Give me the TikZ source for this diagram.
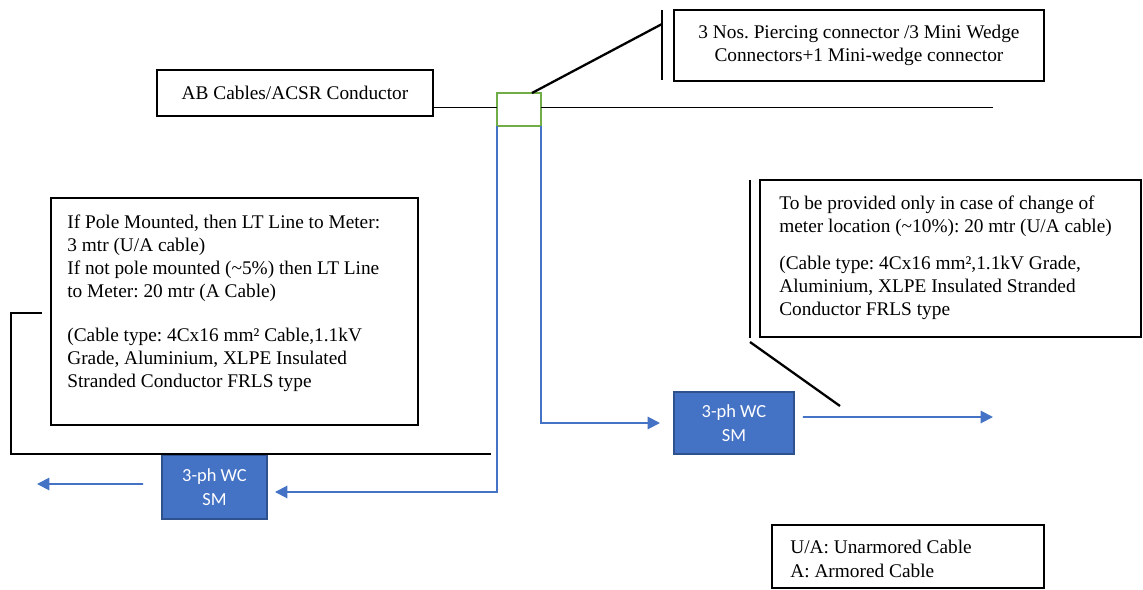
\documentclass[tikz,border=0pt]{standalone}
\usepackage{fontspec}
\setmainfont{Liberation Serif}
\newfontfamily\meterfont{Carlito}
\usetikzlibrary{arrows.meta}
\definecolor{meterblue}{HTML}{4472C4}
\definecolor{meteredge}{HTML}{2F528F}
\definecolor{tapgreen}{HTML}{70AD47}
\tikzset{
  box/.style={draw=black,line width=0.8pt,inner sep=0pt,outer sep=0pt,anchor=north west,
    font=\fontsize{11}{13}\selectfont},
  notetext/.style={inner sep=0pt,anchor=north west,align=left,font=\fontsize{11}{13}\selectfont},
  tapbox/.style={draw=tapgreen,line width=1.3pt,inner sep=0pt,outer sep=0pt,anchor=north west,
    minimum width=0.88cm,minimum height=0.66cm},
  meter/.style={draw=meteredge,line width=0.8pt,fill=meterblue,text=white,inner sep=0pt,outer sep=0pt,
    anchor=north west,align=center,font=\meterfont\fontsize{10.5}{13.6}\selectfont},
  wire/.style={black,line width=0.55pt},
  callout/.style={black,line width=1.3pt},
  feed/.style={meterblue,line width=1.1pt,-{Triangle[length=7pt,width=7pt]}}
}
\frenchspacing
\begin{document}
\begin{tikzpicture}[x=0.02cm,y=-0.02cm]
    \useasboundingbox (0,0) rectangle (1143,589);
    % overhead line and tap
    \node[box,minimum width=5.52cm,minimum height=0.92cm] at (157,70) (ab) {AB Cables/ACSR Conductor};
    \node[tapbox] at (497,93) (tap) {};
    \coordinate (busend) at (993,107);
    \draw[wire] (ab.east |- 0,107) -- (tap.west |- 0,107);
    \draw[wire] (tap.east |- 0,107) -- (busend);
    % connector note
    \node[box,minimum width=7.4cm,minimum height=1.42cm,align=center] at (674,10) (conn)
        {3 Nos. Piercing connector /3 Mini Wedge\\Connectors+1 Mini-wedge connector};
    \coordinate (connbartop) at (662,10);
    \coordinate (connbarbot) at (662,80);
    \coordinate (connpt) at (662,24);
    \draw[callout] (connbartop) -- (connbarbot);
    \draw[callout] ([xshift=-0.18cm]tap.north east) -- (connpt);
    % meters
    \node[meter,minimum width=2.1cm,minimum height=1.28cm] at (162,455) (meterL) {3-ph WC\\SM};
    \node[meter,minimum width=2.4cm,minimum height=1.24cm] at (674,392) (meterR) {3-ph WC\\SM};
    \coordinate (outL) at (37,484);
    \coordinate (outR) at (993,417);
    \draw[feed,shorten >=0.16cm] (tap.south west) |- ([yshift=-0.1cm]meterL.east);
    \draw[feed,shorten >=0.28cm] (tap.south east) |- (meterR.west);
    \draw[feed,shorten <=0.38cm] ([yshift=0.06cm]meterL.west) -- (outL);
    \draw[feed,shorten <=0.18cm] ([yshift=0.12cm]meterR.east) -- (outR);
    % pole mounted note
    \node[box,minimum width=7.34cm,minimum height=4.54cm] at (51,198) (pole) {};
    \node[notetext] at (67,215) (poletext)
        {If Pole Mounted, then LT Line to Meter:\\3 mtr (U/A cable)\\If not pole mounted (\textasciitilde5\%) then LT Line\\to Meter: 20 mtr (A Cable)\\[12pt]
         (Cable type: 4Cx16 mm² Cable,1.1kV\\Grade, Aluminium, XLPE Insulated\\Stranded Conductor FRLS type};
    \coordinate (polept) at (42,313);
    \coordinate (poleend) at (491,454);
    \draw[callout] (polept) -- (11,313) |- (poleend);
    % change of location note
    \node[box,minimum width=7.62cm,minimum height=3.14cm] at (760,180) (loc) {};
    \node[notetext] at (779,196) (loctext)
        {To be provided only in case of change of\\meter location (\textasciitilde10\%): 20 mtr (U/A cable)\\[8pt]
         (Cable type: 4Cx16 mm²,1.1kV Grade,\\Aluminium, XLPE Insulated Stranded\\Conductor FRLS type};
    \coordinate (locbartop) at (750,180);
    \coordinate (locbarbot) at (750,338);
    \coordinate (locpt) at (840,406);
    \draw[callout] (locbartop) -- (locbarbot);
    \draw[callout] (750,342) -- (locpt);
    % legend
    \node[box,minimum width=5.44cm,minimum height=1.26cm] at (772,525) (legend) {};
    \node[notetext,font=\fontsize{11}{13.6}\selectfont] at (790,540) (legendtext)
        {U/A: Unarmored Cable\\A: Armored Cable};
\end{tikzpicture}
\end{document}
